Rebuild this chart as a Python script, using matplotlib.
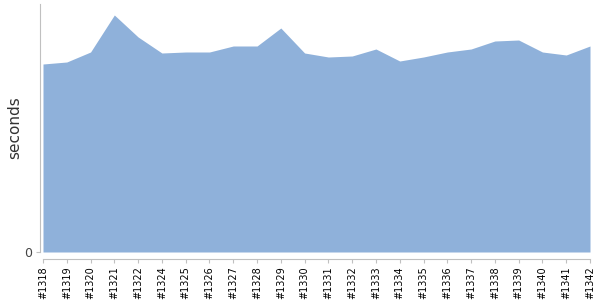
import numpy as np
import matplotlib.pyplot as plt

builds = ['#1318', '#1319', '#1320', '#1321', '#1322', '#1324', '#1325', '#1326',
          '#1327', '#1328', '#1329', '#1330', '#1331', '#1332', '#1333', '#1334',
          '#1335', '#1336', '#1337', '#1338', '#1339', '#1340', '#1341', '#1342']
seconds = [188, 190, 200, 237, 215, 199, 200, 200,
           206, 206, 224, 199, 195, 196, 203, 191,
           195, 200, 203, 211, 212, 200, 197, 206]

fig = plt.figure(figsize=(6, 3), dpi=100)
ax = fig.add_axes([40/600, 48/300, 550/600, 248/300])

# spines first: set_position resets the ticks
for s in ['top', 'right']:
    ax.spines[s].set_visible(False)
ax.spines['left'].set_color('#c0c0c0')
ax.spines['bottom'].set_color('#c0c0c0')
ax.spines['bottom'].set_position(('outward', 5))

x = np.arange(len(builds))
ax.fill_between(x, 0, seconds, color='#8fb1da', linewidth=0)

ax.set_xlim(-0.126, len(builds) - 1)
ax.set_ylim(0, 248)
ax.spines['bottom'].set_bounds(0, len(builds) - 1)
ax.set_xticks(x)
ax.set_xticklabels(builds, rotation=90, fontsize=7)
ax.set_yticks([0])
ax.set_yticklabels(['0'], fontsize=9, color='#444444')
ax.set_ylabel('seconds', fontsize=11, color='#333333', labelpad=1)
ax.tick_params(axis='x', length=3, color='#c0c0c0', pad=2)
ax.tick_params(axis='y', length=3, color='#c0c0c0', pad=3)

fig.savefig('out.png', dpi=100)
